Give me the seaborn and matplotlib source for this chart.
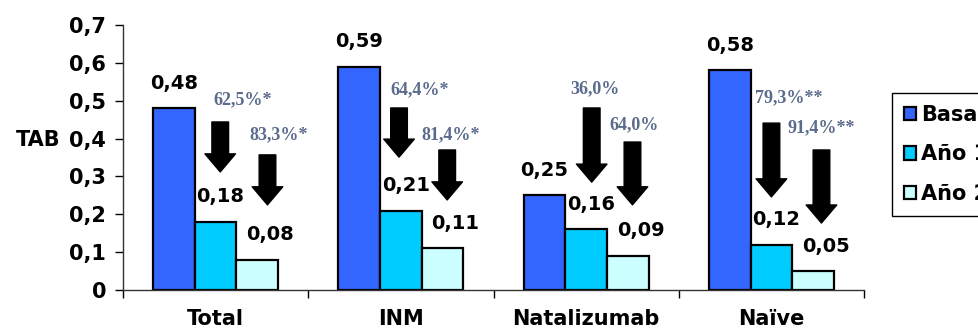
import numpy as np
import pandas as pd
import matplotlib
matplotlib.use("Agg")
import matplotlib.pyplot as plt
import seaborn as sns

# data
grupos = ["Total", "INM", "Natalizumab", "Naïve"]
periodos = ["Basal", "Año 1", "Año 2"]
basal = [0.48, 0.59, 0.25, 0.58]
ano1 = [0.18, 0.21, 0.16, 0.12]
ano2 = [0.08, 0.11, 0.09, 0.05]
red_ano1 = ["62,5%*", "64,4%*", "36,0%", "79,3%**"]
red_ano2 = ["83,3%*", "81,4%*", "64,0%", "91,4%**"]
colores = ["#3366FF", "#00CCFF", "#CCFFFF"]

df = pd.DataFrame({
    "grupo": grupos * 3,
    "periodo": [p for p in periodos for _ in grupos],
    "TAB": basal + ano1 + ano2,
})

# annotation layout (offset from category centre, data units)
arrow1 = [(0.025, 0.444, 0.312), (-0.01, 0.481, 0.351), (0.03, 0.481, 0.285), (0.0, 0.441, 0.246)]
arrow2 = [(0.28, 0.357, 0.225), (0.25, 0.37, 0.238), (0.25, 0.391, 0.225), (0.27, 0.37, 0.177)]
txt1 = [(0.144, 0.502), (0.10, 0.528), (0.05, 0.533), (0.095, 0.507)]
txt2 = [(0.34, 0.409), (0.27, 0.409), (0.26, 0.436), (0.27, 0.428)]

sns.set_style("white")
plt.rcParams["font.family"] = ["DejaVu Sans"]
plt.rcParams.update({"text.color": "black", "axes.labelcolor": "black",
                     "xtick.color": "black", "ytick.color": "black"})

fig = plt.figure(figsize=(9.79, 3.30), dpi=100)
ax = fig.add_axes([0.1256, 0.1212, 0.757, 0.8028])

sns.barplot(data=df, x="grupo", y="TAB", hue="periodo", palette=colores,
            edgecolor="black", linewidth=1.6, width=0.675, gap=0, ax=ax,
            saturation=1, errorbar=None)

# value labels
dx_pts = [0, 3.6, 9.4]
for k, cont in enumerate(ax.containers):
    for bar in cont:
        h = bar.get_height()
        ax.annotate(f"{h:.2f}".replace(".", ","),
                    (bar.get_x() + bar.get_width() / 2, h),
                    xytext=(dx_pts[k], 18), textcoords="offset points",
                    ha="center", va="center", fontsize=14, fontweight="bold")

# arrows and percentages
arrow_style = "simple,tail_width=0.6,head_width=1.1,head_length=0.65"
for i in range(len(grupos)):
    for (dx, y0, y1) in (arrow1[i], arrow2[i]):
        ax.annotate("", xy=(i + dx, y1), xytext=(i + dx, y0),
                    arrowprops=dict(arrowstyle=arrow_style, mutation_scale=20,
                                    fc="black", ec="black", shrinkA=0, shrinkB=0))
    for (dx, y), s in ((txt1[i], red_ano1[i]), (txt2[i], red_ano2[i])):
        ax.text(i + dx, y, s, ha="center", va="center", fontsize=13,
                fontweight="bold", color="#5a6b8c", family="Liberation Serif")

ax.set_xlim(-0.5, 3.5)
ax.set_ylim(0, 0.7)
yt = np.round(np.arange(0, 0.71, 0.1), 1)
ax.set_yticks(yt)
ax.set_yticklabels(["0"] + [f"{v:.1f}".replace(".", ",") for v in yt[1:]],
                   fontsize=15, fontweight="bold")
ax.set_xticks(range(len(grupos)))
ax.set_xticklabels(grupos, fontsize=15, fontweight="bold")
ax.set_xticks(np.arange(-0.5, 3.6, 1), minor=True)
ax.tick_params(axis="x", which="major", length=0, pad=14)
ax.tick_params(axis="x", which="minor", length=6, width=1, direction="out", bottom=True)
ax.tick_params(axis="y", length=6, width=1, direction="out", left=True, pad=6)

ax.set_xlabel("")
ax.set_ylabel("TAB", rotation=0, fontsize=15, fontweight="bold")
ax.yaxis.set_label_coords(-0.115, 0.528)

for s in ["top", "right"]:
    ax.spines[s].set_visible(False)
for s in ["left", "bottom"]:
    ax.spines[s].set_color("#333333")
    ax.spines[s].set_linewidth(1)

ax.legend(loc="upper left", bbox_to_anchor=(1.038, 0.743), borderaxespad=0,
          fancybox=False, edgecolor="black", framealpha=1,
          prop={"size": 15, "weight": "bold"}, handlelength=0.6, handleheight=0.6,
          handletextpad=0.25, labelspacing=0.95, borderpad=0.55, title=None)
ax.get_legend().get_frame().set_linewidth(1)

plt.savefig("out.png", dpi=100)
